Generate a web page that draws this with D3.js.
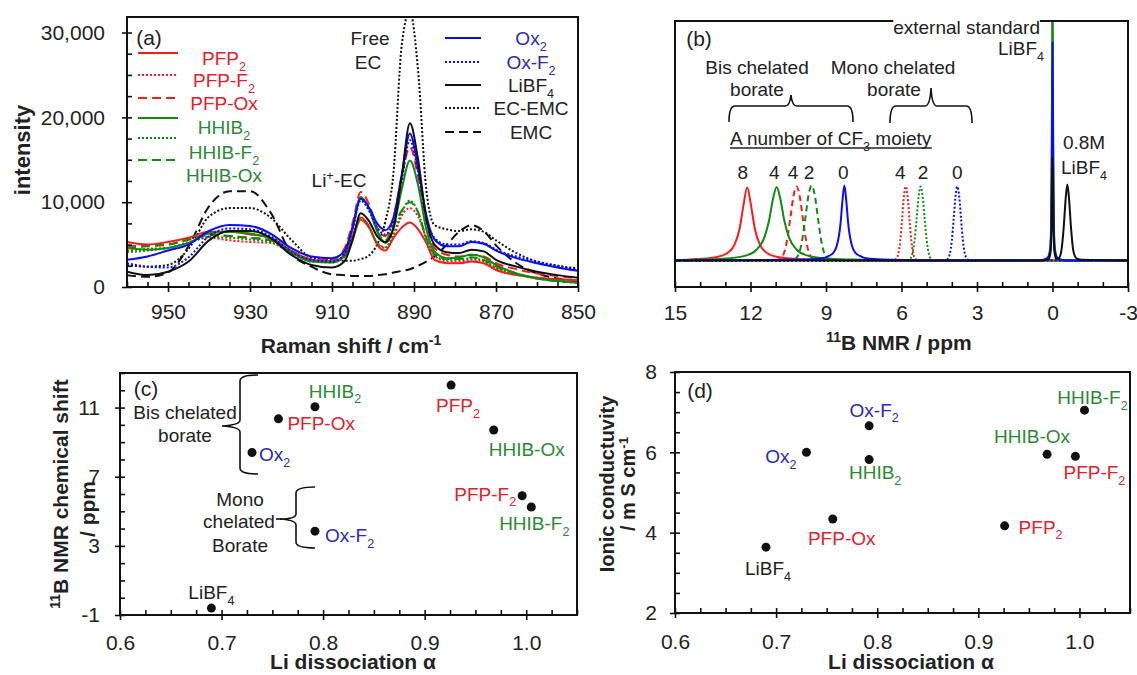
<!DOCTYPE html>
<html>
<head>
<meta charset="utf-8">
<script src="https://cdn.jsdelivr.net/npm/d3@7"></script>
<style>
  body { margin: 0; background: #fff; }
  svg text { font-family: "Liberation Sans", Arial, Helvetica, sans-serif; }
</style>
</head>
<body>
<svg id="fig" width="1137" height="675"></svg>
<script>
// ---------- (a) Raman spectra ----------
const ramanShift = [960,955,950,945,940,935,930,925,920,915,910,907,905,903,901,899,897,895,893,891,889,887,885,882,879,876,873,870,865,860,855,850];
const pfp2   = [5300,5000,5300,5800,6500,6500,6200,5800,4300,3200,3000,3600,6000,8200,7200,5000,4300,5800,7000,7600,6800,5200,3200,2800,2800,3000,2800,2000,1400,1100,900,800];
const pfpF2  = [4300,4500,4600,5300,5800,5500,5300,5200,4100,3100,3000,3600,5600,7900,7000,5200,4600,6000,8400,9300,8300,5800,3700,3000,3000,3200,3000,2200,1500,1100,900,700];
const pfpOx  = [4800,4900,5000,5600,6100,6000,5800,5500,4300,3300,3200,4500,7500,11200,9800,7000,6000,8200,13000,16500,13000,7800,4600,3800,3600,3800,3600,2800,2100,1600,1300,1000];
const hhib2  = [4600,4400,4600,5200,6300,6500,6300,5700,4100,3000,2900,3800,7000,10600,9300,6600,5200,7000,11500,14900,12000,6800,4200,3400,3500,3800,3500,2600,1600,1000,700,500];
const hhibF2 = [4100,4300,4600,5200,5900,5800,5600,5300,4000,3000,2900,3500,5600,7900,7000,5200,4700,6300,8800,10200,8800,5600,3800,3200,3200,3400,3100,2300,1500,1000,700,500];
const hhibOx = [4600,4800,5000,5600,6200,6000,5800,5500,4200,3100,3000,4000,7000,10500,9300,6600,5500,7200,9000,10000,8800,5800,3900,3300,3300,3500,3200,2400,1600,1000,700,500];
const ox2    = [3200,3600,4300,5000,6600,7300,7200,6300,4600,3600,3400,4200,7000,10400,9400,7500,6700,8200,13200,18100,14000,8500,5600,4800,4800,5300,5100,4300,3400,2800,2300,1900];
const oxF2   = [2800,2400,2300,3500,6000,6900,6800,6000,4200,3200,3000,3800,6800,10200,9000,7000,6200,7800,12600,17300,13500,8200,5800,5000,5000,5400,5200,4400,3600,3000,2500,2000];
const libf4  = [1800,1400,1800,3000,5500,6600,6600,5800,3800,2600,2300,3000,5500,8700,7800,6000,5300,7000,13000,19300,15000,8000,5000,4100,4000,4400,4200,3200,2400,1800,1400,1100];
const ecEmc  = [2600,2400,2600,4500,8300,9300,9300,8200,5600,3500,3200,3100,3100,3300,3700,5000,7700,13500,28500,32500,25500,11500,7300,6800,6600,6800,6500,5500,4000,3000,2500,2200];
const emc    = [1400,1200,1700,4800,9500,11300,11300,8800,4000,2400,1500,1400,1300,1300,1300,1400,1500,1700,1900,2100,2500,3000,3600,5000,6500,7300,6600,4900,2800,1600,1000,600];
const ramanXTicks = [950,930,910,890,870,850];
const ramanYTicks = [0,10000,20000,30000];

// ---------- (b) 11B NMR spectra: [ppm, intensity] ----------
const nmrPFP2   = [[15,0],[14.13,0.05],[13.33,0.13],[12.93,0.27],[12.63,0.6],[12.43,1.2],[12.28,2.07],[12.13,2.74],[11.98,2.07],[11.83,1.2],[11.63,0.6],[11.33,0.27],[10.93,0.13],[10.13,0.05],[9.13,0.02],[7,0],[-3,0]];
const nmrPFPOx  = [[15,0],[10.97,0.01],[10.77,0.1],[10.57,0.64],[10.42,1.57],[10.3,2.38],[10.17,2.78],[10.04,2.38],[9.92,1.57],[9.77,0.64],[9.57,0.1],[9.37,0.01],[-3,0]];
const nmrPFPF2  = [[15,0],[6.33,0],[6.23,0.04],[6.13,0.24],[6.05,0.75],[5.98,1.51],[5.91,2.34],[5.83,2.78],[5.75,2.34],[5.68,1.51],[5.61,0.75],[5.53,0.24],[5.43,0.04],[5.33,0],[-3,0]];
const nmrHHIB2  = [[15,0],[13.96,0.03],[12.96,0.07],[12.16,0.19],[11.76,0.4],[11.46,0.84],[11.26,1.51],[11.11,2.29],[10.96,2.76],[10.81,2.29],[10.66,1.51],[10.46,0.84],[10.16,0.4],[9.76,0.19],[8.96,0.07],[7.96,0.03],[6.5,0],[0.5,0],[0.2,0.1],[0.1,0.4],[0.05,1.5],[0.02,6],[0,12],[-0.02,6],[-0.05,1.5],[-0.1,0.4],[-0.2,0.1],[-0.5,0],[-3,0]];
const nmrHHIBOx = [[15,0],[10.37,0.01],[10.17,0.1],[9.97,0.64],[9.82,1.59],[9.7,2.42],[9.57,2.82],[9.44,2.42],[9.32,1.59],[9.17,0.64],[8.97,0.1],[8.77,0.01],[-3,0]];
const nmrHHIBF2 = [[15,0],[5.76,0],[5.66,0.05],[5.56,0.28],[5.48,0.77],[5.4,1.57],[5.32,2.41],[5.24,2.78],[5.16,2.41],[5.08,1.57],[5.0,0.77],[4.92,0.28],[4.82,0.05],[4.72,0],[-3,0]];
const nmrOx2    = [[15,0],[10.27,0.02],[9.27,0.06],[8.77,0.23],[8.57,0.56],[8.42,1.41],[8.35,2.2],[8.27,2.82],[8.19,2.2],[8.12,1.41],[7.97,0.56],[7.77,0.23],[7.27,0.06],[6.27,0.02],[5,0],[0.5,0],[0.2,0.08],[0.1,0.3],[0.05,1.2],[0.02,4.5],[0,8.2],[-0.02,4.5],[-0.05,1.2],[-0.1,0.3],[-0.2,0.08],[-0.5,0],[-3,0]];
const nmrOxF2   = [[15,0],[4.28,0],[4.18,0.04],[4.08,0.24],[4.0,0.75],[3.93,1.51],[3.86,2.34],[3.78,2.78],[3.7,2.34],[3.63,1.51],[3.56,0.75],[3.48,0.24],[3.38,0.04],[3.28,0],[-3,0]];
const nmrLiBF4  = [[15,0],[0.4,0],[0.15,0.05],[0.08,0.3],[0.04,1.2],[0,3.9],[-0.04,1.2],[-0.08,0.3],[-0.15,0.05],[-0.25,0.08],[-0.35,0.35],[-0.45,1.3],[-0.52,2.28],[-0.59,2.85],[-0.66,2.28],[-0.73,1.3],[-0.83,0.35],[-0.95,0.08],[-1.2,0.02],[-3,0]];
const nmrXTicks = [15,12,9,6,3,0,-3];
// number of CF3 groups and the shift of the peak each one sits over
const cf3Counts = ["8","4","4","2","0","4","2","0"];
const cf3PeakShift = [12.13, 10.96, 10.17, 9.57, 8.27, 5.83, 5.24, 3.78];

// ---------- (c), (d) scatter ----------
const electrolytes = ["LiBF_{4}","Ox_{2}","PFP-Ox","HHIB_{2}","Ox-F_{2}","PFP_{2}","HHIB-Ox","PFP-F_{2}","HHIB-F_{2}"];
const liDissociation = [0.690, 0.730, 0.756, 0.792, 0.792, 0.926, 0.968, 0.996, 1.005];
const boronShift     = [-0.6, 8.4, 10.35, 11.05, 3.85, 12.3, 9.7, 5.9, 5.25];
const conductivity   = [3.64, 6.0, 4.34, 5.82, 6.66, 4.17, 5.95, 5.9, 7.05];
const alphaTicks = [0.6, 0.7, 0.8, 0.9, 1.0];
const shiftTicks = [-1, 3, 7, 11];
const condTicks  = [2, 4, 6, 8];

// ---------- styles ----------
const RED = "#ff1a1a", GREEN = "#118a11", BLUE = "#0a0aff", BLACK = "#111";
const RED_T = "#e3202b", GREEN_T = "#2a8a34", BLUE_T = "#2a2ab4", BLACK_T = "#222";
const DOT = "2,2", DASH = "9,5";
const familyColor = n => n.startsWith("PFP") ? RED_T : n.startsWith("HHIB") ? GREEN_T : n.startsWith("Ox") ? BLUE_T : BLACK_T;

const svg = d3.select("#fig");

// text with _{sub} and ^{sup} parts
function rich(t, str, size) {
  const parts = str.split(/(_\{[^}]*\}|\^\{[^}]*\})/).filter(s => s.length);
  let shift = 0;
  parts.forEach(p => {
    let txt = p, target = 0, small = false;
    if (p.startsWith("_{")) { txt = p.slice(2, -1); target = 0.3 * size; small = true; }
    else if (p.startsWith("^{")) { txt = p.slice(2, -1); target = -0.38 * size; small = true; }
    const ts = t.append("tspan").text(txt).attr("dy", target - shift);
    if (small) ts.attr("font-size", size * 0.66);
    shift = target;
  });
}
function label(g, x, y, str, o = {}) {
  const size = o.size || 19;
  const t = g.append("text")
    .attr("x", x).attr("y", y + 0.36 * size)
    .attr("font-size", size)
    .attr("fill", o.color || BLACK_T)
    .attr("text-anchor", o.anchor || "middle")
    .attr("font-weight", o.bold ? "bold" : null);
  if (o.rotate) t.attr("transform", `rotate(${o.rotate},${x},${y})`);
  rich(t, str, size);
  return t;
}
function styleAxis(a) {
  a.selectAll(".domain").remove();
  a.selectAll("line").attr("stroke", BLACK).attr("stroke-width", 1.6);
  a.selectAll("text").attr("font-size", 21).attr("fill", BLACK_T)
    .attr("font-family", '"Liberation Sans", Arial, sans-serif');
}
function xAxis(scale, y, major, minor, fmt, pad) {
  const a = svg.append("g").attr("transform", `translate(0,${y})`);
  a.call(d3.axisBottom(scale).tickValues(major).tickSize(5).tickPadding(pad).tickFormat(fmt));
  a.append("g").call(d3.axisBottom(scale).tickValues(major).tickSize(-5).tickFormat(""));
  a.append("g").call(d3.axisBottom(scale).tickValues(minor).tickSize(-5).tickFormat(""));
  styleAxis(a);
}
function yAxis(scale, x, major, minor, fmt, pad) {
  const a = svg.append("g").attr("transform", `translate(${x},0)`);
  a.call(d3.axisLeft(scale).tickValues(major).tickSize(5).tickPadding(pad).tickFormat(fmt));
  a.append("g").call(d3.axisLeft(scale).tickValues(major).tickSize(-5).tickFormat(""));
  a.append("g").call(d3.axisLeft(scale).tickValues(minor).tickSize(-5).tickFormat(""));
  styleAxis(a);
}
function frame(b) {
  svg.append("rect").attr("x", b.x0).attr("y", b.y0)
    .attr("width", b.x1 - b.x0).attr("height", b.y1 - b.y0)
    .attr("fill", "none").attr("stroke", BLACK).attr("stroke-width", 2);
}
function clip(id, b) {
  svg.append("clipPath").attr("id", id).append("rect")
    .attr("x", b.x0).attr("y", b.y0).attr("width", b.x1 - b.x0).attr("height", b.y1 - b.y0);
  return `url(#${id})`;
}
const range = (a, b, s) => d3.range(a, b + s / 2, s).map(v => +v.toFixed(4));
const plain = d => String(d);

// ================= panel (a) =================
const A = { x0: 127, x1: 578, y0: 17, y1: 287 };
const xA = d3.scaleLinear().domain([960, 850]).range([A.x0, A.x1]);
const yA = d3.scaleLinear().domain([0, 31830]).range([A.y1, A.y0]);

const ramanSeries = [
  { values: emc,    color: BLACK, dash: DASH },
  { values: ecEmc,  color: BLACK, dash: DOT },
  { values: pfp2,   color: RED,   dash: null },
  { values: pfpF2,  color: RED,   dash: DOT },
  { values: pfpOx,  color: RED,   dash: DASH },
  { values: hhib2,  color: GREEN, dash: null },
  { values: hhibF2, color: GREEN, dash: DOT },
  { values: hhibOx, color: GREEN, dash: DASH },
  { values: oxF2,   color: BLUE,  dash: DOT },
  { values: ox2,    color: BLUE,  dash: null },
  { values: libf4,  color: BLACK, dash: null }
];
const lineA = d3.line().x((d, i) => xA(ramanShift[i])).y(d => yA(d)).curve(d3.curveMonotoneX);
const gA = svg.append("g").attr("clip-path", clip("clipA", A));
ramanSeries.forEach(s => {
  gA.append("path").attr("d", lineA(s.values)).attr("fill", "none")
    .attr("stroke", s.color).attr("stroke-width", 2)
    .attr("stroke-dasharray", s.dash);
});
frame(A);
xAxis(xA, A.y1, ramanXTicks, range(850, 960, 5).filter(v => !ramanXTicks.includes(v)), plain, 12);
yAxis(yA, A.x0, ramanYTicks, range(2500, 30000, 2500).filter(v => !ramanYTicks.includes(v)), d3.format(","), 17);

label(svg, 149, 37, "(a)", { size: 21 });
// legend, left column
const legLeft = [
  { name: "PFP_{2}",   color: RED,   dash: null, ly: 53,  ty: 58 },
  { name: "PFP-F_{2}", color: RED,   dash: DOT,  ly: 75,  ty: 80 },
  { name: "PFP-Ox",    color: RED,   dash: DASH, ly: 98,  ty: 103 },
  { name: "HHIB_{2}",  color: GREEN, dash: null, ly: 118, ty: 127 },
  { name: "HHIB-F_{2}",color: GREEN, dash: DOT,  ly: 138, ty: 152 },
  { name: "HHIB-Ox",   color: GREEN, dash: DASH, ly: 160, ty: 175 }
];
legLeft.forEach(e => {
  svg.append("line").attr("x1", 138).attr("x2", 178).attr("y1", e.ly).attr("y2", e.ly)
    .attr("stroke", e.color).attr("stroke-width", 2).attr("stroke-dasharray", e.dash);
  label(svg, 224, e.ty, e.name, { color: familyColor(e.name) });
});
// legend, right column
const legRight = [
  { name: "Ox_{2}",   color: BLUE,  dash: null, y: 38 },
  { name: "Ox-F_{2}", color: BLUE,  dash: DOT,  y: 62 },
  { name: "LiBF_{4}", color: BLACK, dash: null, y: 85 },
  { name: "EC-EMC",   color: BLACK, dash: DOT,  y: 108 },
  { name: "EMC",      color: BLACK, dash: DASH, y: 132 }
];
legRight.forEach(e => {
  svg.append("line").attr("x1", 445).attr("x2", 481).attr("y1", e.y).attr("y2", e.y)
    .attr("stroke", e.color).attr("stroke-width", 2).attr("stroke-dasharray", e.dash);
  label(svg, 531, e.y, e.name, { color: familyColor(e.name) });
});
label(svg, 370, 38, "Free");
label(svg, 368, 62, "EC");
label(svg, 339, 180, "Li^{+}-EC");
label(svg, 22, 150, "intensity", { bold: true, size: 22, rotate: -90 });
label(svg, 351, 345, "Raman shift / cm^{-1}", { bold: true, size: 21 });

// ================= panel (b) =================
const B = { x0: 675, x1: 1128, y0: 21, y1: 287 };
const xB = d3.scaleLinear().domain([15, -3]).range([B.x0, B.x1]);
const yB = d3.scaleLinear().domain([-1, 9]).range([B.y1, B.y0]);
const nmrSeries = [
  { data: nmrPFP2,   color: RED,   dash: null },
  { data: nmrPFPOx,  color: RED,   dash: "6,4" },
  { data: nmrPFPF2,  color: RED,   dash: DOT },
  { data: nmrHHIB2,  color: GREEN, dash: null },
  { data: nmrHHIBOx, color: GREEN, dash: "6,4" },
  { data: nmrHHIBF2, color: GREEN, dash: DOT },
  { data: nmrOxF2,   color: BLUE,  dash: DOT },
  { data: nmrOx2,    color: BLUE,  dash: null },
  { data: nmrLiBF4,  color: BLACK, dash: null }
];
const lineB = d3.line().x(d => xB(d[0])).y(d => yB(d[1])).curve(d3.curveMonotoneX);
const gB = svg.append("g").attr("clip-path", clip("clipB", B));
nmrSeries.forEach(s => {
  gB.append("path").attr("d", lineB(s.data)).attr("fill", "none")
    .attr("stroke", s.color).attr("stroke-width", 2)
    .attr("stroke-dasharray", s.dash);
});
frame(B);
xAxis(xB, B.y1, nmrXTicks, range(-3, 15, 1).filter(v => !nmrXTicks.includes(v)), plain, 13);

label(svg, 699, 38, "(b)", { size: 21 });
// external standard label sits on the frame with its own white box
const ext = label(svg, 1040, 27, "external standard", { anchor: "end" });
const eb = ext.node().getBBox();
svg.insert("rect", () => ext.node()).attr("x", eb.x).attr("y", eb.y + 3)
  .attr("width", eb.width).attr("height", eb.height - 6).attr("fill", "#fff");
label(svg, 1044, 48, "LiBF_{4}", { anchor: "end" });
label(svg, 757, 67, "Bis chelated");
label(svg, 757, 89, "borate");
label(svg, 893, 67, "Mono chelated");
label(svg, 894, 89, "borate");
const braceStyle = s => s.attr("fill", "none").attr("stroke", BLACK).attr("stroke-width", 1.6);
braceStyle(svg.append("path").attr("d",
  "M729,122 Q729,106 735,106 L785,106 Q790,106 791,95 Q792,106 797,106 L847,106 Q853,106 853,122"));
braceStyle(svg.append("path").attr("d",
  "M890,123 Q890,106 896,106 L925,106 Q930,106 931,88 Q932,106 937,106 L966,106 Q972,106 972,123"));
const cf = label(svg, 730, 138, "A number of CF_{3} moiety", { anchor: "start" });
const cb = cf.node().getBBox();
svg.append("line").attr("x1", cb.x).attr("x2", cb.x + cb.width).attr("y1", 148).attr("y2", 148)
  .attr("stroke", BLACK_T).attr("stroke-width", 1.3);
// small horizontal nudges keep the count labels from touching
const cf3Nudge = [-4.5, -2.5, -3.5, -2.5, -1, -5.5, 2.5, 0];
cf3Counts.forEach((c, i) => label(svg, xB(cf3PeakShift[i]) + cf3Nudge[i], 172, c));
label(svg, 1084, 142, "0.8M");
label(svg, 1084, 167, "LiBF_{4}");
label(svg, 899, 342, "^{11}B NMR / ppm", { bold: true, size: 21 });

// ================= panel (c) =================
const C = { x0: 120, x1: 577, y0: 373, y1: 615 };
const xC = d3.scaleLinear().domain([0.6, 1.05]).range([C.x0, C.x1]);
const yC = d3.scaleLinear().domain([-1, 13]).range([C.y1, C.y0]);
frame(C);
xAxis(xC, C.y1, alphaTicks, range(0.6, 1.05, 0.025).filter(v => !alphaTicks.some(t => Math.abs(t - v) < 1e-6)), d3.format(".1f"), 15);
yAxis(yC, C.x0, shiftTicks, range(-1, 13, 1).filter(v => !shiftTicks.includes(v)), plain, 15);
svg.append("g").selectAll("circle").data(electrolytes).join("circle")
  .attr("cx", (d, i) => xC(liDissociation[i])).attr("cy", (d, i) => yC(boronShift[i]))
  .attr("r", 4.5).attr("fill", BLACK);
const labC = [[0, -16, "middle"], [7, 2, "start"], [9, 4, "start"], [20, -16, "middle"], [10, 4, "start"],
              [7, 20, "middle"], [33, 19, "middle"], [-6, -2, "end"], [3, 16, "middle"]];
electrolytes.forEach((n, i) => label(svg, xC(liDissociation[i]) + labC[i][0], yC(boronShift[i]) + labC[i][1], n,
  { anchor: labC[i][2], color: familyColor(n) }));
label(svg, 146, 388, "(c)", { size: 21 });
label(svg, 185, 412, "Bis chelated");
label(svg, 185, 435, "borate");
braceStyle(svg.append("path").attr("d",
  "M258,375 Q240,375 240,381 L240,420 Q240,425 222,426 Q240,427 240,432 L240,468 Q240,474 258,474"));
label(svg, 240, 499, "Mono");
label(svg, 239, 521, "chelated");
label(svg, 240, 545, "Borate");
braceStyle(svg.append("path").attr("d",
  "M315,487 Q296,487 296,493 L296,514 Q296,519 280,519 Q296,520 296,525 L296,542 Q296,548 315,548"));
svg.append("line").attr("x1", 276).attr("x2", 282).attr("y1", 519).attr("y2", 519)
  .attr("stroke", BLACK).attr("stroke-width", 1.6);
label(svg, 60, 494, "^{11}B NMR chemical shift", { bold: true, size: 21, rotate: -90 });
label(svg, 87, 509, "/ ppm", { bold: true, size: 21, rotate: -90 });
label(svg, 353, 661, "Li dissociation α", { bold: true, size: 21 });

// ================= panel (d) =================
const D = { x0: 675, x1: 1130, y0: 372, y1: 613 };
const xD = d3.scaleLinear().domain([0.6, 1.05]).range([D.x0, D.x1]);
const yD = d3.scaleLinear().domain([2, 8]).range([D.y1, D.y0]);
frame(D);
xAxis(xD, D.y1, alphaTicks, range(0.6, 1.05, 0.025).filter(v => !alphaTicks.some(t => Math.abs(t - v) < 1e-6)), d3.format(".1f"), 16);
yAxis(yD, D.x0, condTicks, range(2, 8, 0.5).filter(v => !condTicks.includes(v)), plain, 13);
svg.append("g").selectAll("circle").data(electrolytes).join("circle")
  .attr("cx", (d, i) => xD(liDissociation[i])).attr("cy", (d, i) => yD(conductivity[i]))
  .attr("r", 4.5).attr("fill", BLACK);
const labD = [[2, 21, "middle"], [-10, 4, "end"], [9, 19, "middle"], [6, 13, "middle"], [5, -16, "middle"],
              [14, 1, "start"], [-15, -18, "middle"], [19, 16, "middle"], [8, -13, "middle"]];
electrolytes.forEach((n, i) => label(svg, xD(liDissociation[i]) + labD[i][0], yD(conductivity[i]) + labD[i][1], n,
  { anchor: labD[i][2], color: familyColor(n) }));
label(svg, 700, 390, "(d)", { size: 21 });
label(svg, 607, 484, "Ionic conductuvity", { bold: true, size: 20, rotate: -90 });
label(svg, 628, 484, "/ m S cm^{-1}", { bold: true, size: 20, rotate: -90 });
label(svg, 911, 661, "Li dissociation α", { bold: true, size: 21 });
</script>
</body>
</html>
